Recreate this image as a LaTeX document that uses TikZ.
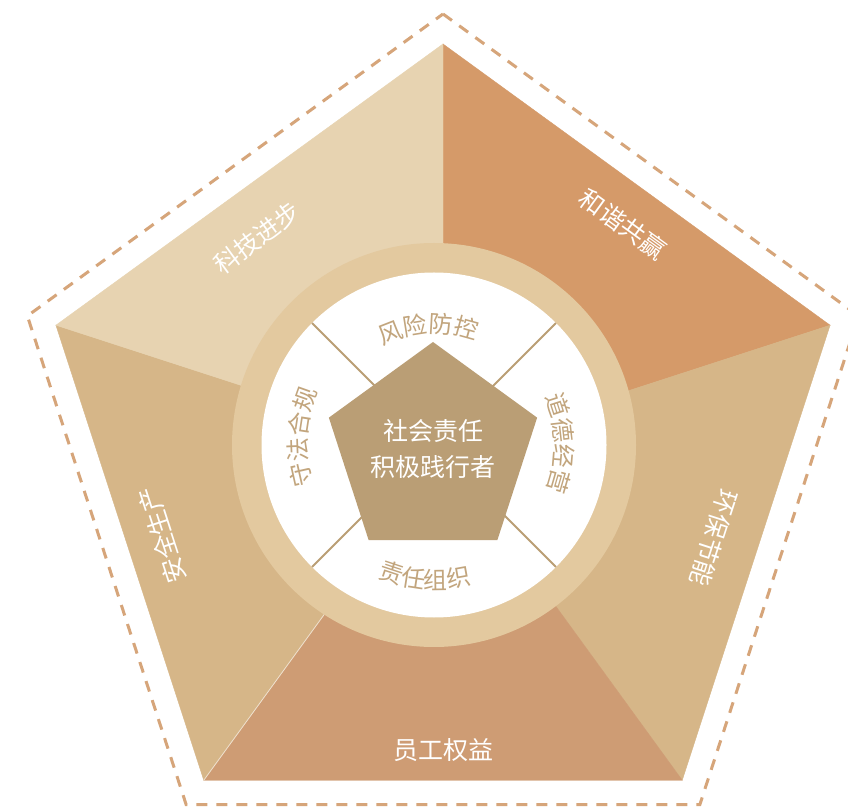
\documentclass[tikz,border=0pt]{standalone}
\usepackage{fontspec}
\setmainfont{Noto Sans CJK SC}
\usetikzlibrary{calc,decorations.text}
\definecolor{secA}{HTML}{E7D3B1}
\definecolor{secB}{HTML}{D59A69}
\definecolor{secC}{HTML}{D6B688}
\definecolor{secD}{HTML}{CE9C74}
\definecolor{ringc}{HTML}{E3C99F}
\definecolor{corec}{HTML}{BA9E75}
\definecolor{innertxt}{HTML}{C2A57D}
\definecolor{dashc}{HTML}{D6A57A}
\begin{document}
\begin{tikzpicture}[x=1pt,y=1pt,
  sectorfill/.style={fill=#1, draw=#1, line width=0.4pt},
  seclabel/.style={text=white, font=\fontsize{25}{25}\selectfont, inner sep=0pt},
  dashline/.style={draw=dashc, line width=3pt, dash pattern=on 11pt off 9pt},
  divider/.style={draw=corec, line width=2pt},
  arctext/.style={decorate, decoration={text along path, text align=center, text={|\color{innertxt}\fontsize{24}{24}\selectfont|#1}}}
]
\useasboundingbox (0,0) rectangle (848,806);
\clip (0,0) rectangle (848,806);
\fill[white] (0,0) rectangle (848,806);

% outer pentagon geometry
\coordinate (O) at (443,355);
\foreach \a/\n in {90/1,18/2,-54/3,-126/4,162/5}{
  \coordinate (P\n) at ($(O)+(\a:407)$);
  \coordinate (D\n) at ($(O)+(\a:437)$);
}

% sectors
\path[sectorfill=secB] (O) -- (P1) -- (P2) -- cycle;
\path[sectorfill=secC] (O) -- (P2) -- (P3) -- cycle;
\path[sectorfill=secD] (O) -- (P3) -- (P4) -- cycle;
\path[sectorfill=secC] (O) -- (P4) -- (P5) -- cycle;
\path[sectorfill=secA] (O) -- (P5) -- (P1) -- cycle;
\draw[white, opacity=0.6, line width=0.8pt] (P4) -- (O);

% dashed outline
\draw[dashline] (D1) -- (D2) -- (D3) -- (D4) -- (D5) -- cycle;

% ring and inner circle
\coordinate (C) at (434,361);
\fill[ringc] (C) circle[radius=202];
\fill[white] (C) circle[radius=172.5];
\foreach \a in {45,135,225,315}{
  \draw[divider] (C) -- ($(C)+(\a:172.5)$);
}

% core pentagon
\coordinate (K) at (433,354.5);
\fill[corec] ($(K)+(90:109.5)$) -- ($(K)+(18:109.5)$) -- ($(K)+(-54:109.5)$)
  -- ($(K)+(-126:109.5)$) -- ($(K)+(162:109.5)$) -- cycle;
\node[text=white, align=center, font=\fontsize{25}{36}\selectfont, inner sep=0pt] (core) at (433,357) {社会责任\\积极践行者};

% sector labels
\node[seclabel, rotate=36] (l1) at (257,568) {科技进步};
\node[seclabel, rotate=-36] (l2) at (623,582) {和谐共赢};
\node[seclabel, rotate=-108] (l3) at (714,268) {环保节能};
\node[seclabel] (l4) at (443,56) {员工权益};
\node[seclabel, rotate=108] (l5) at (162,271) {安全生产};

% inner ring labels
\path[arctext={风险防控}] ($(C)+(132.9:112)$) arc[start angle=132.9, end angle=52.9, radius=112];
\path[arctext={道德经营}] ($(C)+(40.9:121)$) arc[start angle=40.9, end angle=-39.1, radius=121];
\path[arctext={守法合规}] ($(C)+(216.6:127.5)$) arc[start angle=216.6, end angle=136.6, radius=127.5];
\path[arctext={责任组织}] ($(C)+(226:144)$) arc[start angle=226, end angle=306, radius=144];
\end{tikzpicture}
\end{document}
